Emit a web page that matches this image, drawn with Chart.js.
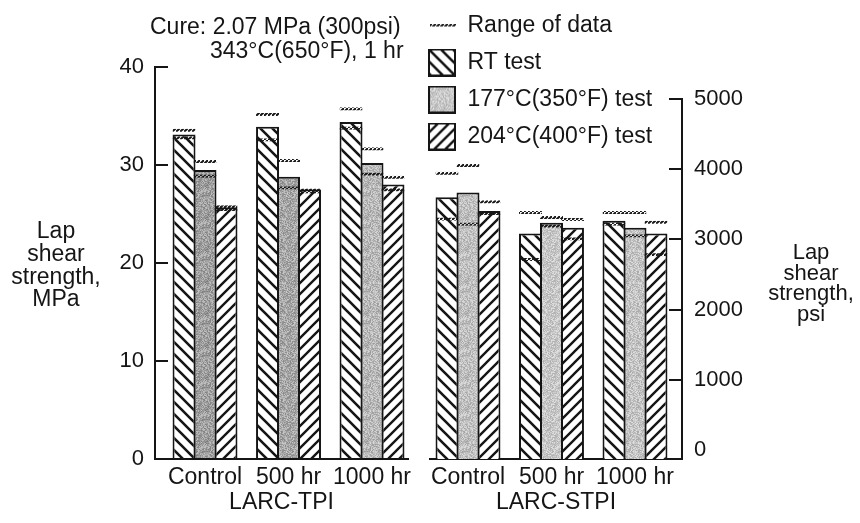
<!DOCTYPE html>
<html><head><meta charset="utf-8">
<script src="https://cdn.jsdelivr.net/npm/chart.js@4.4.0/dist/chart.umd.min.js"></script>
<style>
html,body{margin:0;padding:0;background:#fff;}
#wrap{position:relative;width:860px;height:523px;overflow:hidden;background:#fff;}
canvas{position:absolute;top:0;}
#cL{left:0;} #cR{left:420px;}
</style></head><body>
<div id="wrap"><canvas id="cL" width="420" height="523"></canvas><canvas id="cR" width="440" height="523"></canvas></div>
<script>
// ---------- data ----------
const categories = ['Control', '500 hr', '1000 hr'];
const seriesNames = ['RT test', '177°C(350°F) test', '204°C(400°F) test'];
const rangeLabel = 'Range of data';
const panelTitles = ['LARC-TPI', 'LARC-STPI'];
const cureLines = ['Cure: 2.07 MPa (300psi)', '343°C(650°F), 1 hr'];
const leftAxisTitle = ['Lap', 'shear', 'strength,', 'MPa'];
const rightAxisTitle = ['Lap', 'shear', 'strength,', 'psi'];
const mpaTicks = [0, 10, 20, 30, 40];
const psiTicks = [0, 1000, 2000, 3000, 4000, 5000];

// LARC-TPI (MPa)
const tpiRT = [33.1, 33.9, 34.4];
const tpi177 = [29.5, 28.8, 30.2];
const tpi204 = [25.7, 27.5, 28.0];
const tpiRTRange = [[32.6, 33.7], [32.4, 35.3], [33.6, 35.9]];
const tpi177Range = [[28.7, 30.5], [27.5, 30.6], [28.9, 31.8]];
const tpi204Range = [[25.3, 25.9], [27.1, 27.6], [27.3, 28.9]];

// LARC-STPI (MPa)
const stpiRT = [26.7, 23.0, 24.3];
const stpi177 = [27.2, 24.1, 23.6];
const stpi204 = [25.3, 23.6, 23.0];
const stpiRTRange = [[24.3, 29.3], [20.2, 25.3], [23.8, 25.3]];
const stpi177Range = [[23.8, 30.1], [23.6, 24.8], [22.6, 25.3]];
const stpi204Range = [[24.9, 26.4], [22.3, 24.6], [20.7, 24.3]];

// ---------- styles ----------
const INK = '#151515';
const FONT = '"Liberation Sans", Arial, Helvetica, sans-serif';
Chart.defaults.font.family = FONT;
Chart.defaults.color = INK;

function tile(w, h, draw) { const c = document.createElement('canvas'); c.width = w; c.height = h; draw(c.getContext('2d'), w, h); return c; }
function hatchTile(dir, s, lw) {
  return tile(s, s, (g) => {
    g.fillStyle = '#fff'; g.fillRect(0, 0, s, s);
    g.strokeStyle = INK; g.lineWidth = lw; g.beginPath();
    for (const o of [-s, 0, s]) {
      if (dir < 0) { g.moveTo(o - 1, -1); g.lineTo(o + s + 1, s + 1); }
      else { g.moveTo(o - 1, s + 1); g.lineTo(o + s + 1, -1); }
    }
    g.stroke();
  });
}
function hash(x, y) { let n = (Math.imul(x, 374761393) + Math.imul(y, 668265263)) | 0; n = Math.imul(n ^ (n >>> 13), 1274126177); n ^= n >>> 16; return (n >>> 0) / 4294967296; }
function stippleTile(base, amp, s) {
  return tile(s, s, (g) => {
    const im = g.createImageData(s, s);
    for (let y = 0; y < s; y++) for (let x = 0; x < s; x++) {
      const v = Math.max(0, Math.min(255, base + (hash(x + 7, y + 3) - 0.5) * amp));
      const k = (y * s + x) * 4; im.data[k] = im.data[k + 1] = im.data[k + 2] = v; im.data[k + 3] = 255;
    }
    g.putImageData(im, 0, 0);
  });
}
const rangeTileC = tile(4, 4, (g) => { g.strokeStyle = INK; g.lineWidth = 2; g.beginPath(); g.moveTo(-1, 5); g.lineTo(5, -1); g.stroke(); });
const backTile = hatchTile(-1, 12, 2.6);
const fwdTile = hatchTile(1, 11, 2.4);
const stipL = [stippleTile(160, 70, 32), stippleTile(168, 70, 32), stippleTile(185, 65, 32)];
const stipR = [stippleTile(192, 60, 32), stippleTile(200, 55, 32), stippleTile(196, 60, 32)];
const stipLegend = stippleTile(200, 60, 32);

const pc = document.getElementById('cL').getContext('2d');
const P = (t) => pc.createPattern(t, 'repeat');
const rangePattern = P(rangeTileC);

function legendBox(t) { return tile(28, 28, (g) => { g.fillStyle = g.createPattern(t, 'repeat'); g.fillRect(0, 0, 28, 28); g.strokeStyle = INK; g.lineWidth = 2; g.strokeRect(1, 1, 26, 26); }); }
const legendDash = tile(28, 4, (g) => { g.fillStyle = g.createPattern(rangeTileC, 'repeat'); g.fillRect(2, 0, 26, 3); });
const legendImages = [legendDash, legendBox(backTile), legendBox(stipLegend), legendBox(fwdTile)];

const CAT_PCT = 0.754, BAR_PCT = 1.095;
function makeDatasets(values, ranges, fills) {
  const ds = [];
  values.forEach((vals, i) => ds.push({
    label: seriesNames[i], data: vals, stack: 's' + i, order: 1,
    backgroundColor: fills[i], borderColor: INK, borderWidth: 2,
    categoryPercentage: CAT_PCT, barPercentage: BAR_PCT
  }));
  ranges.forEach((r, i) => ds.push({
    label: rangeLabel, data: r, stack: 's' + i, order: 0,
    backgroundColor: 'rgba(0,0,0,0)', borderColor: rangePattern,
    borderWidth: { top: 3, bottom: 3, left: 0, right: 0 }, borderSkipped: false,
    categoryPercentage: CAT_PCT, barPercentage: BAR_PCT
  }));
  return ds;
}

function xScale(min, max, title) {
  return {
    type: 'linear', min, max, offset: false,
    afterBuildTicks: (s) => { s.ticks = categories.map((_, i) => ({ value: i })); },
    afterFit: (s) => { s.height = 57; },
    ticks: { autoSkip: false, maxRotation: 0, padding: 5, font: { size: 23 }, color: INK, callback: (v) => categories[v] },
    grid: { display: false, drawTicks: false },
    border: { display: true, color: INK, width: 2 },
    title: { display: true, text: title, font: { size: 23 }, color: INK, padding: { top: 0, bottom: 0 } }
  };
}

const textPluginL = {
  id: 'textL',
  afterDraw(chart) {
    const c = chart.ctx; c.save();
    c.fillStyle = INK; c.font = '23px ' + FONT; c.textBaseline = 'middle'; c.textAlign = 'left';
    c.fillText(cureLines[0], 150, 28);
    c.fillText(cureLines[1], 210, 52);
    c.textAlign = 'center';
    leftAxisTitle.forEach((t, i) => c.fillText(t, 56, 232 + i * 22.7));
    c.restore();
  }
};
const textPluginR = {
  id: 'textR',
  afterDraw(chart) {
    const c = chart.ctx; c.save();
    c.fillStyle = INK; c.font = '22px ' + FONT; c.textBaseline = 'middle'; c.textAlign = 'center';
    rightAxisTitle.forEach((t, i) => c.fillText(t, 391, 253 + i * 20.5));
    c.restore();
  }
};
const legendMover = {
  id: 'legendMover',
  afterLayout(chart) {
    const l = chart.legend; if (!l) return;
    const pad = 14;
    l.left = 8 - pad; l.top = 0; l.right = l.left + 260; l.bottom = 300;
  }
};

// ---------- left panel ----------
new Chart(document.getElementById('cL'), {
  type: 'bar',
  data: {
    labels: categories.map((_, i) => i),
    datasets: makeDatasets([tpiRT, tpi177, tpi204], [tpiRTRange, tpi177Range, tpi204Range],
      [P(backTile), stipL.map(P), P(fwdTile)])
  },
  options: {
    responsive: false, animation: false, devicePixelRatio: 1,
    layout: { padding: { left: 0, top: 67, right: 12, bottom: 7 } },
    plugins: { legend: { display: false }, tooltip: { enabled: false } },
    scales: {
      x: xScale(-0.599, 2.431, panelTitles[0]),
      y: {
        type: 'linear', position: 'left', min: 0, max: 40, stacked: false,
        afterBuildTicks: (s) => { s.ticks = mpaTicks.map(v => ({ value: v })); },
        afterFit: (s) => { s.width = 155; },
        ticks: { padding: 24, font: { size: 22 }, color: INK, callback: (v) => String(v) },
        grid: { display: true, drawOnChartArea: false, drawTicks: true, tickLength: -13, color: INK, lineWidth: 2 },
        border: { display: true, color: INK, width: 2 }
      }
    }
  },
  plugins: [textPluginL]
});

// ---------- right panel ----------
new Chart(document.getElementById('cR'), {
  type: 'bar',
  data: {
    labels: categories.map((_, i) => i),
    datasets: makeDatasets([stpiRT, stpi177, stpi204], [stpiRTRange, stpi177Range, stpi204Range],
      [P(backTile), stipR.map(P), P(fwdTile)])
  },
  options: {
    responsive: false, animation: false, devicePixelRatio: 1,
    layout: { padding: { left: 10, top: 99, right: 0, bottom: 7 } },
    plugins: {
      tooltip: { enabled: false },
      legend: {
        display: true, position: 'chartArea', align: 'start',
        labels: {
          usePointStyle: true, pointStyleWidth: 28, padding: 14,
          font: { size: 23 }, color: INK,
          generateLabels: () => [rangeLabel].concat(seriesNames).map((t, i) => ({
            text: t, pointStyle: legendImages[i], fillStyle: 'rgba(0,0,0,0)', strokeStyle: 'rgba(0,0,0,0)',
            lineWidth: 0, hidden: false, datasetIndex: i === 0 ? 3 : i - 1, fontColor: INK
          }))
        }
      }
    },
    scales: {
      x: xScale(-0.455, 2.563, panelTitles[1]),
      y: { type: 'linear', display: false, min: 0, max: 40 * (459 - 99) / (459 - 67), stacked: false },
      yR: {
        type: 'linear', position: 'right', min: -128, max: 5000,
        afterBuildTicks: (s) => { s.ticks = psiTicks.map(v => ({ value: v })); },
        afterFit: (s) => { s.width = 178; },
        ticks: { padding: 25, font: { size: 22 }, color: INK, callback: (v) => String(v) },
        grid: { display: true, drawOnChartArea: false, drawTicks: true, tickLength: -13, lineWidth: 2,
          color: (c) => (c.tick && c.tick.value === 0) ? 'rgba(0,0,0,0)' : INK },
        border: { display: true, color: INK, width: 2 }
      }
    }
  },
  plugins: [legendMover, textPluginR]
});
</script>
</body></html>
